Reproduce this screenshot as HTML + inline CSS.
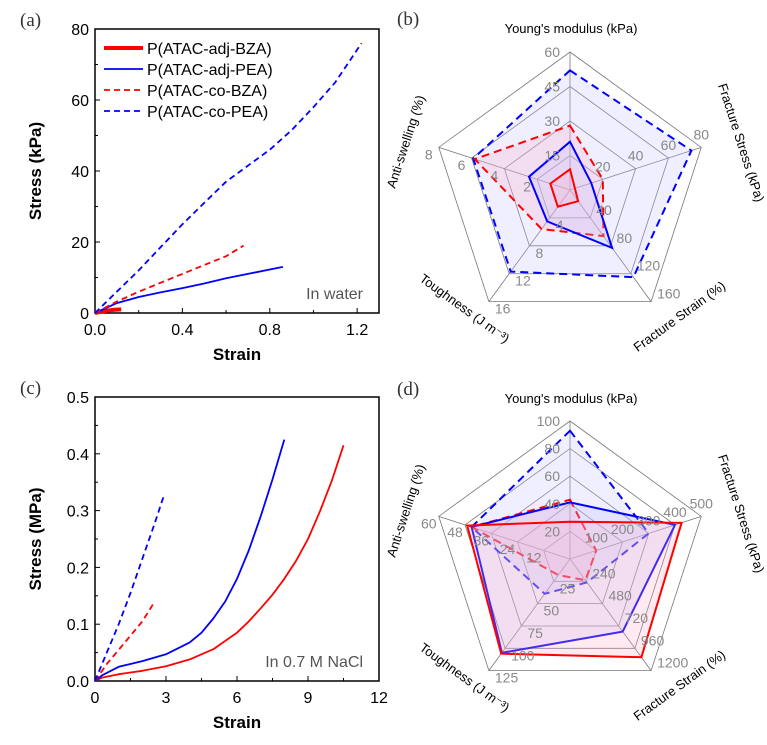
<!DOCTYPE html>
<html><head><meta charset="utf-8"><style>
html,body{margin:0;padding:0;background:#fff;}
svg{display:block;font-family:"Liberation Sans",Arial,sans-serif;}
</style></head><body>
<svg id="fig" width="767" height="745" viewBox="0 0 767 745" xmlns="http://www.w3.org/2000/svg"></svg>
<script>
// ---------- Panel (a) data ----------
const aRedSolidX=[0,0.03,0.06,0.09,0.12];
const aRedSolidY=[0,0.4,0.7,0.9,1.0];
const aBlueSolidX=[0,0.1,0.2,0.3,0.4,0.5,0.6,0.7,0.86];
const aBlueSolidY=[0,2.8,4.5,5.8,7,8.3,9.8,11,13];
const aRedDashX=[0,0.1,0.2,0.3,0.4,0.5,0.6,0.68];
const aRedDashY=[0,3.2,6,8.5,11,13.5,16,19];
const aBlueDashX=[0,0.1,0.2,0.3,0.4,0.5,0.6,0.7,0.8,0.9,1.0,1.1,1.22];
const aBlueDashY=[0,6,12,18.5,25,31,37,41.5,46,51.5,58,65,76];
const aXTicks=["0.0","0.4","0.8","1.2"];
const aYTicks=["0","20","40","60","80"];
const legendNames=["P(ATAC-adj-BZA)","P(ATAC-adj-PEA)","P(ATAC-co-BZA)","P(ATAC-co-PEA)"];
// ---------- Panel (c) data ----------
const cRedSolidX=[0,0.3,1,2,3,4,5,6,6.5,7,7.5,8,8.5,9,9.5,10,10.5];
const cRedSolidY=[0,0.006,0.012,0.018,0.026,0.038,0.056,0.085,0.105,0.128,0.152,0.18,0.212,0.25,0.298,0.352,0.415];
const cBlueSolidX=[0,0.3,1,2,3,4,4.5,5,5.5,6,6.5,7,7.5,8];
const cBlueSolidY=[0,0.01,0.025,0.035,0.047,0.068,0.085,0.11,0.14,0.18,0.23,0.29,0.355,0.425];
const cRedDashX=[0,0.5,1,1.5,2,2.45];
const cRedDashY=[0,0.03,0.055,0.08,0.105,0.135];
const cBlueDashX=[0,0.5,1,1.5,2,2.5,2.9];
const cBlueDashY=[0,0.05,0.1,0.155,0.215,0.275,0.325];
const cXTicks=["0","3","6","9","12"];
const cYTicks=["0.0","0.1","0.2","0.3","0.4","0.5"];
// ---------- Radar (b) data ----------
const radarAxes=["Young's modulus (kPa)","Fracture Stress (kPa)","Fracture Strain (%)","Toughness (J m⁻³)","Anti-swelling (%)"];
const bMax=[60,80,160,16,8];
const bTicks=[["15","30","45","60"],["20","40","60","80"],["40","80","120","160"],["4","8","12","16"],["2","4","6","8"]];
const bRedSolid=[9,3,16,2.4,1.2];
const bBlueSolid=[21,13,83,4.5,2.5];
const bRedDash=[28,20,66,5.6,5.8];
const bBlueDash=[52,74,125,11.7,5.9];
// ---------- Radar (d) data ----------
const dMax=[100,500,1200,125,60];
const dTicks=[["20","40","60","80","100"],["100","200","300","400","500"],["240","480","720","960","1200"],["25","50","75","100","125"],["12","24","36","48","60"]];
const dRedSolid=[27,425,1056,106,47];
const dBlueSolid=[41,400,780,105,45];
const dRedDash=[43,100,228,18,45];
const dBlueDash=[93,300,252,39,45];

const NS="http://www.w3.org/2000/svg";
const svg=document.getElementById('fig');
function mk(tag,attrs,parent){const e=document.createElementNS(NS,tag);for(const k in attrs)e.setAttribute(k,attrs[k]);(parent||svg).appendChild(e);return e;}
function txt(s,attrs,parent){const e=mk('text',attrs,parent);e.textContent=s;return e;}

function linePlot(cfg){
  const g=mk('g',{});
  
  
  const L=95,R=379,T=cfg.top,B=cfg.top+284;
  const sx=v=>L+(v/cfg.xmax)*(R-L), sy=v=>B-(v/cfg.ymax)*(B-T);
  const frame=mk('rect',{x:L,y:T,width:R-L,height:B-T,fill:'none',stroke:'#000','stroke-width':1.5},g);
  
  
  cfg.xticks.forEach((t,i)=>{const v=parseFloat(t);const x=sx(v);
    mk('line',{x1:x,y1:B,x2:x,y2:B-5,stroke:'#000'},g);
    if(i<cfg.xticks.length-1){const xm=sx(v+cfg.xstep/2);mk('line',{x1:xm,y1:B,x2:xm,y2:B-3,stroke:'#000'},g);}
    const tl=txt(t,{x:x,y:B+22,'text-anchor':'middle','font-size':16},g);
    
    
  });
  cfg.yticks.forEach((t,i)=>{const v=parseFloat(t);const y=sy(v);
    mk('line',{x1:L,y1:y,x2:L+5,y2:y,stroke:'#000'},g);
    if(i<cfg.yticks.length-1){const ym=sy(v+cfg.ystep/2);mk('line',{x1:L,y1:ym,x2:L+3,y2:ym,stroke:'#000'},g);}
    const tl=txt(t,{x:L-6,y:y+6,'text-anchor':'end','font-size':16},g);
    
    
  });
  const xt=txt('Strain',{x:(L+R)/2,y:B+47,'text-anchor':'middle','font-size':17,'font-weight':'bold'},g);
  
  
  const yt=txt(cfg.ytitle,{x:0,y:0,'text-anchor':'middle','font-size':17,'font-weight':'bold',transform:`translate(41,${(T+B)/2}) rotate(-90)`},g);
  
  
  const pl=txt(cfg.label,{x:20,y:T-3,'font-size':19,'font-family':'Liberation Serif,serif',fill:'#333'},g);
  
  
  const ann=txt(cfg.note,{x:cfg.noteX,y:B-14,'text-anchor':'end','font-size':16,fill:'#555'},g);
  
  
  cfg.series.forEach(s=>{
    const d=s.x.map((v,i)=>(i?'L':'M')+sx(v).toFixed(1)+' '+sy(s.y[i]).toFixed(1)).join(' ');
    const p=mk('path',{d:d,fill:'none',stroke:s.c,'stroke-width':s.w,'stroke-dasharray':s.dash?'6 4':'none','stroke-linejoin':'round'},g);
    
    
  });
  return g;
}
const aSeries=[
 {x:aRedSolidX,y:aRedSolidY,c:'#f00',w:4,dash:false,name:'adj-bza-line'},
 {x:aBlueSolidX,y:aBlueSolidY,c:'#00f',w:1.8,dash:false,name:'adj-pea-line'},
 {x:aRedDashX,y:aRedDashY,c:'#f00',w:1.8,dash:true,name:'co-bza-line'},
 {x:aBlueDashX,y:aBlueDashY,c:'#00f',w:1.8,dash:true,name:'co-pea-line'}];
linePlot({name:'panel-a-chart',top:29,xmax:1.3,ymax:80,xstep:0.4,ystep:20,xticks:aXTicks,yticks:aYTicks,ytitle:'Stress (kPa)',label:'(a)',note:'In water',noteX:363,series:aSeries});
const lg=mk('g',{});


legendNames.forEach((n,i)=>{const y=48+i*21;const s=aSeries[i];
  mk('line',{x1:104,y1:y,x2:143,y2:y,stroke:s.c,'stroke-width':s.w,'stroke-dasharray':s.dash?'6 4':'none'},lg);
  const t=txt(n,{x:147,y:y+6,'font-size':16},lg);
  
  
});
linePlot({name:'panel-c-chart',top:397,xmax:12,ymax:0.5,xstep:3,ystep:0.1,xticks:cXTicks,yticks:cYTicks,ytitle:'Stress (MPa)',label:'(c)',note:'In 0.7 M NaCl',noteX:363,series:[
 {x:cRedSolidX,y:cRedSolidY,c:'#f00',w:1.8,dash:false,name:'adj-bza-line'},
 {x:cBlueSolidX,y:cBlueSolidY,c:'#00f',w:1.8,dash:false,name:'adj-pea-line'},
 {x:cRedDashX,y:cRedDashY,c:'#f00',w:1.8,dash:true,name:'co-bza-line'},
 {x:cBlueDashX,y:cBlueDashY,c:'#00f',w:1.8,dash:true,name:'co-pea-line'}]});

function radar(cfg){
  const g=mk('g',{});
  
  
  const cx=570,cy=cfg.cy,R=138;
  const ang=[-90,-18,54,126,198].map(a=>a*Math.PI/180);
  const pt=(i,f)=>[cx+R*f*Math.cos(ang[i]),cy+R*f*Math.sin(ang[i])];
  const n=cfg.ticks[0].length;
  for(let k=1;k<=n;k++){const f=k/n;
    mk('polygon',{points:ang.map((_,i)=>pt(i,f).join(',')).join(' '),fill:'none',stroke:'#777','stroke-width':0.8},g);}
  ang.forEach((_,i)=>{const p=pt(i,1);mk('line',{x1:cx,y1:cy,x2:p[0],y2:p[1],stroke:'#777','stroke-width':0.8},g);});
  const polys=[
   {v:cfg.blueDash,c:'#00f',dash:true,fill:'rgba(190,190,255,0.25)',name:'co-pea-polygon'},
   {v:cfg.redDash,c:'#f00',dash:true,fill:'rgba(255,170,200,0.25)',name:'co-bza-polygon'},
   {v:cfg.blueSolid,c:'#00f',dash:false,fill:'rgba(190,190,255,0.25)',name:'adj-pea-polygon'},
   {v:cfg.redSolid,c:'#f00',dash:false,fill:'rgba(255,170,200,0.25)',name:'adj-bza-polygon'}];
  polys.forEach(s=>{
    const p=mk('polygon',{points:s.v.map((v,i)=>pt(i,v/cfg.max[i]).map(q=>q.toFixed(1)).join(',')).join(' '),fill:s.fill,stroke:s.c,'stroke-width':2,'stroke-dasharray':s.dash?'8 5':'none'},g);
    
    
  });
  const off=[[-10,5,'end'],[0,-8,'middle'],[6,-3,'start'],[6,12,'start'],[-10,12,'middle']];
  cfg.ticks.forEach((arr,i)=>arr.forEach((t,k)=>{const p=pt(i,(k+1)/n);
    const e=txt(t,{x:p[0]+off[i][0],y:p[1]+off[i][1],'text-anchor':off[i][2],'font-size':14,fill:'#888'},g);
    
    
  }));
  const tp=cfg.titles;
  radarAxes.forEach((a,i)=>{
    const e=txt(a,{x:0,y:0,'text-anchor':'middle','font-size':13,transform:`translate(${tp[i][0]},${tp[i][1]}) rotate(${tp[i][2]})`},g);
    
    
  });
  const pl=txt(cfg.label,{x:397,y:cfg.labelY,'font-size':19,'font-family':'Liberation Serif,serif',fill:'#333'},g);
  
  
}
radar({name:'panel-b-radar',cy:190,max:bMax,ticks:bTicks,redSolid:bRedSolid,blueSolid:bBlueSolid,redDash:bRedDash,blueDash:bBlueDash,label:'(b)',labelY:25,
  titles:[[571,33,0],[737,144,72],[682,320,-36],[462,312,36],[410,143,-72]]});
radar({name:'panel-d-radar',cy:559,max:dMax,ticks:dTicks,redSolid:dRedSolid,blueSolid:dBlueSolid,redDash:dRedDash,blueDash:dBlueDash,label:'(d)',labelY:395,
  titles:[[571,403,0],[737,515,72],[682,689,-36],[462,681,36],[410,512,-72]]});
</script>
</body></html>
